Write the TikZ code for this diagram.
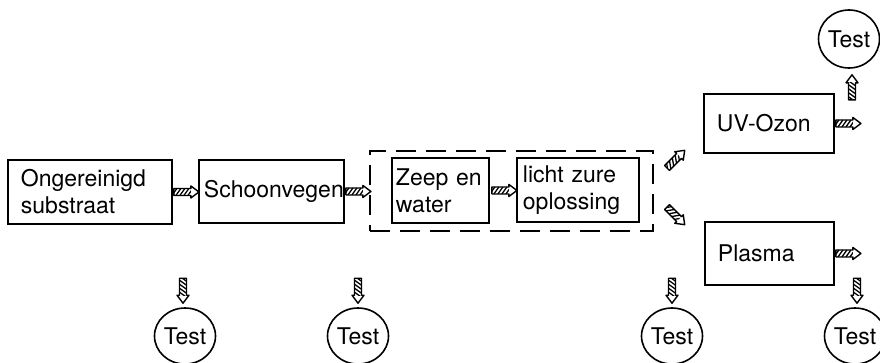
\documentclass[tikz,border=0pt]{standalone}
\usepackage{fontspec}
\setmainfont{TeX Gyre Heros}
\usetikzlibrary{calc,shapes.geometric}

\tikzset{
  x=1pt, y=-1pt,
  stepbox/.style={draw, line width=1.9pt, anchor=north west, inner sep=0pt,
    align=left, font=\fontsize{23}{27}\selectfont},
  testnode/.style={draw, line width=1.6pt, ellipse, minimum width=61pt,
    minimum height=56pt, inner sep=0pt, font=\fontsize{23}{27}\selectfont},
  % small hatched block arrow, pointing along +x, starting at the pic origin
  hatcharrow/.pic={
    \begin{scope}
      \clip (0,-3.5) rectangle (17,3.5);
      \foreach \i in {-6,-2,...,20}
        \draw[line width=1.3pt] (\i,3.5) -- (\i+5,-3.5);
    \end{scope}
    \draw[line width=1.4pt, line join=round]
      (0,-3.5) -- (17,-3.5) -- (17,-6) -- (25,0) -- (17,6) -- (17,3.5)
      -- (0,3.5) -- cycle;
  }
}

\begin{document}
\begin{tikzpicture}
  \useasboundingbox (0,0) rectangle (880,362);

  % process steps
  \node[stepbox, minimum width=164pt, minimum height=64pt, text width=138pt]
    (raw) at (7,159) {Ongereinigd\\substraat};
  \node[stepbox, minimum width=145pt, minimum height=63pt, text width=135pt]
    (sweep) at (198,159) {\raisebox{3pt}{Schoonvegen}};
  \node[stepbox, minimum width=97pt, minimum height=65pt, text width=89pt]
    (soap) at (391,157) {Zeep~en\\water};
  \node[stepbox, minimum width=122pt, minimum height=64pt, text width=110pt]
    (acid) at (516,157) {licht zure\\oplossing};
  \node[stepbox, minimum width=130pt, minimum height=59pt, text width=104pt]
    (uv) at (703,93) {UV-Ozon};
  \node[stepbox, minimum width=129pt, minimum height=63pt, text width=103pt]
    (plasma) at (704,221) {Plasma};

  % wet cleaning group
  \node[draw, line width=1.9pt, dash pattern=on 20pt off 10pt, inner sep=0pt,
        minimum width=283pt, minimum height=80pt, anchor=north west]
    (wet) at (369,150) {};

  % test points
  \node[testnode] (t1) at (185,336) {Test};
  \node[testnode] (t2) at (358,336) {Test};
  \node[testnode] (t3) at (672,336) {Test};
  \node[testnode] (t4) at (855,336) {Test};
  \node[testnode, minimum height=58pt] (t5) at (849,39) {Test};

  % flow arrows between steps
  \pic at ($(raw.east)+(1,0)$) {hatcharrow};
  \pic at ($(sweep.east)+(1,0)$) {hatcharrow};
  \pic at ($(soap.east)+(2,0)$) {hatcharrow};
  \pic at ($(uv.east)+(1,0)$) {hatcharrow};
  \pic at ($(plasma.east)+(1,0)$) {hatcharrow};

  % branching towards the dry treatments
  \coordinate (upstart) at (667,168);
  \coordinate (downstart) at (667,207);
  \pic[rotate=45] at (upstart) {hatcharrow};
  \pic[rotate=-45] at (downstart) {hatcharrow};

  % arrows towards the test points
  \pic[rotate=-90] at ($(t1.north)+(-2,-29)$) {hatcharrow};
  \pic[rotate=-90] at ($(t2.north)+(0,-29)$) {hatcharrow};
  \pic[rotate=-90] at ($(t3.north)+(0,-29)$) {hatcharrow};
  \pic[rotate=-90] at ($(t4.north)+(2,-29)$) {hatcharrow};
  \pic[rotate=90] at ($(t5.south)+(3,31)$) {hatcharrow};
\end{tikzpicture}
\end{document}
